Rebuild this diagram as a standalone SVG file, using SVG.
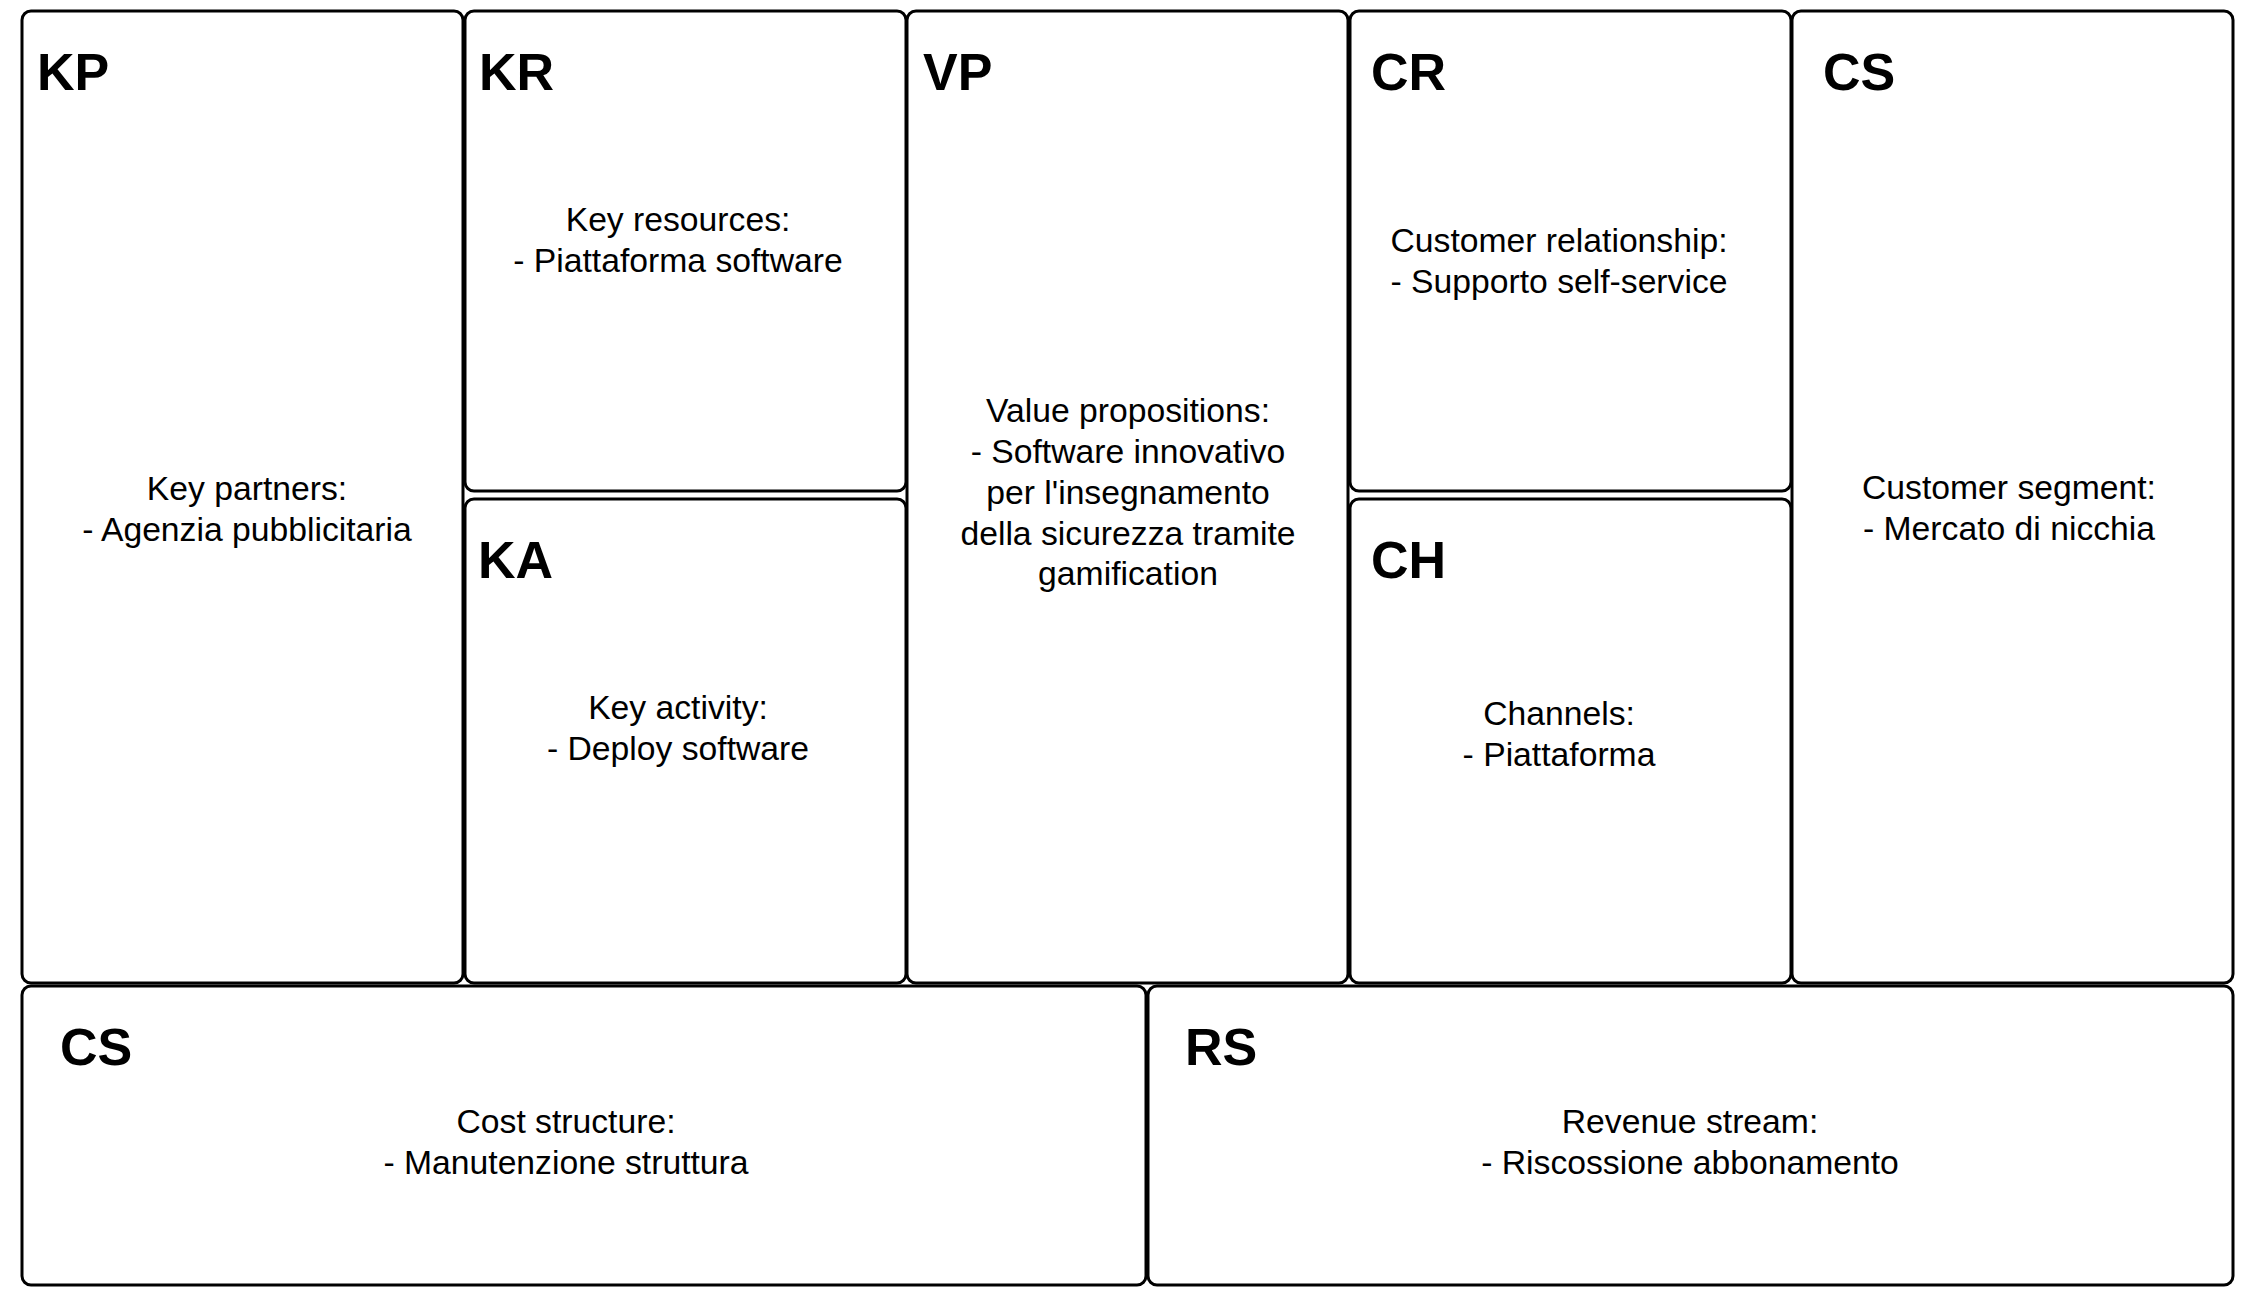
<svg xmlns="http://www.w3.org/2000/svg" width="2252" height="1305" viewBox="0 0 2252 1305">
<style>
.box{fill:#ffffff;stroke:#000000;stroke-width:3}
.h{font-family:"Liberation Sans",Arial,sans-serif;font-weight:bold;font-size:52px;fill:#000}
.t{font-family:"Liberation Sans",Arial,sans-serif;font-size:33.7px;fill:#000;text-anchor:middle}
</style>
<rect width="2252" height="1305" fill="#ffffff"/>
<g id="KP"><rect class="box" x="22" y="11" width="441" height="972" rx="9"/><text class="h" x="37" y="90">KP</text>
<text class="t" x="247" y="500">Key partners:</text><text class="t" x="247" y="541">- Agenzia pubblicitaria</text></g>
<g id="KR"><rect class="box" x="465" y="11" width="441" height="480" rx="9"/><text class="h" x="479" y="90">KR</text>
<text class="t" x="678" y="231">Key resources:</text><text class="t" x="678" y="272">- Piattaforma software</text></g>
<g id="KA"><rect class="box" x="465" y="499" width="441" height="484" rx="9"/><text class="h" x="478" y="578">KA</text>
<text class="t" x="678" y="719">Key activity:</text><text class="t" x="678" y="760">- Deploy software</text></g>
<g id="VP"><rect class="box" x="907" y="11" width="441" height="972" rx="9"/><text class="h" x="923" y="90">VP</text>
<text class="t" x="1128" y="422">Value propositions:</text><text class="t" x="1128" y="463">- Software innovativo</text><text class="t" x="1128" y="504">per l'insegnamento</text><text class="t" x="1128" y="545">della sicurezza tramite</text><text class="t" x="1128" y="585">gamification</text></g>
<g id="CR"><rect class="box" x="1350" y="11" width="441" height="480" rx="9"/><text class="h" x="1371" y="90">CR</text>
<text class="t" x="1559" y="252">Customer relationship:</text><text class="t" x="1559" y="293">- Supporto self-service</text></g>
<g id="CH"><rect class="box" x="1350" y="499" width="441" height="484" rx="9"/><text class="h" x="1371" y="578">CH</text>
<text class="t" x="1559" y="725">Channels:</text><text class="t" x="1559" y="766">- Piattaforma</text></g>
<g id="CS-segment"><rect class="box" x="1792" y="11" width="441" height="972" rx="9"/><text class="h" x="1823" y="90">CS</text>
<text class="t" x="2009" y="499">Customer segment:</text><text class="t" x="2009" y="540">- Mercato di nicchia</text></g>
<g id="CS-cost"><rect class="box" x="22" y="986" width="1124" height="299" rx="9"/><text class="h" x="60" y="1065">CS</text>
<text class="t" x="566" y="1133">Cost structure:</text><text class="t" x="566" y="1174">- Manutenzione struttura</text></g>
<g id="RS"><rect class="box" x="1148" y="986" width="1085" height="299" rx="9"/><text class="h" x="1185" y="1065">RS</text>
<text class="t" x="1690" y="1133">Revenue stream:</text><text class="t" x="1690" y="1174">- Riscossione abbonamento</text></g>
<g id="connectors"></g>
</svg>
